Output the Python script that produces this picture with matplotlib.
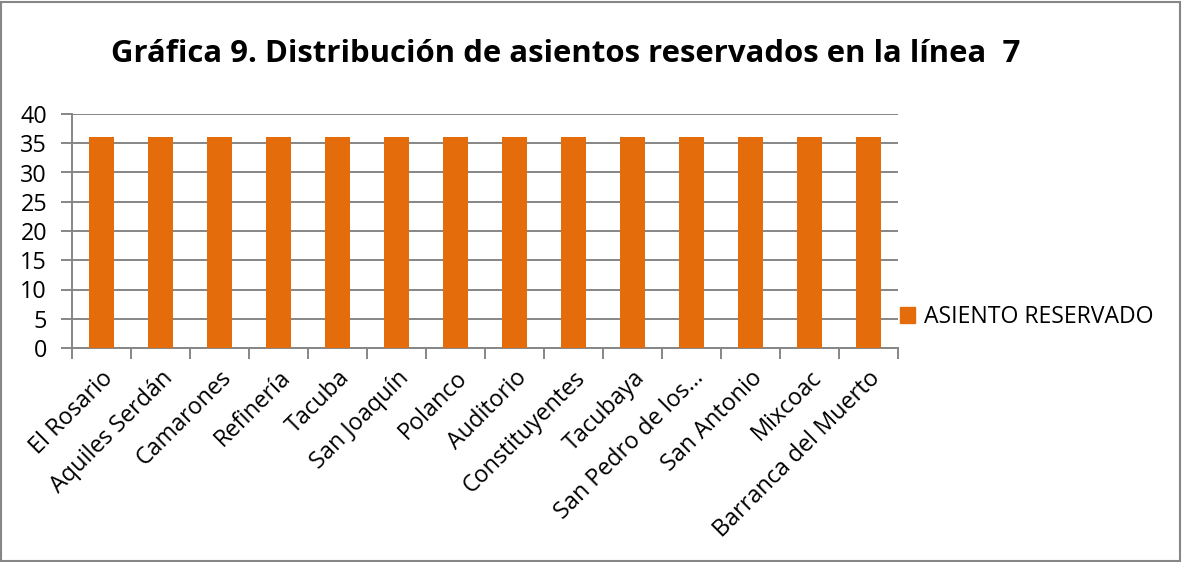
#!/usr/bin/env python3

import matplotlib.pyplot as plt
import numpy as np
from matplotlib.patches import Rectangle, Patch

stations = [
    "El Rosario", "Aquiles Serdán", "Camarones", "Refinería", "Tacuba",
    "San Joaquín", "Polanco", "Auditorio", "Constituyentes", "Tacubaya",
    "San Pedro de los…", "San Antonio", "Mixcoac", "Barranca del Muerto",
]
reserved_seats = [36, 36, 36, 36, 36, 36, 36, 36, 36, 36, 36, 36, 36, 36]
y_ticks = [0, 5, 10, 15, 20, 25, 30, 35, 40]

orange = "#E46C0A"
grid_gray = "#868686"

plt.rcParams["font.family"] = ["Open Sans", "DejaVu Sans"]

fig = plt.figure(figsize=(11.82, 5.62), dpi=100)
ax = fig.add_axes([72 / 1182, 1 - 348 / 562, (898 - 72) / 1182, (348 - 114) / 562])

x = np.arange(len(stations))
ax.bar(x, reserved_seats, width=0.41, color=orange, zorder=3,
       label="ASIENTO RESERVADO")

ax.set_xlim(-0.5, len(stations) - 0.5)
ax.set_ylim(0, 40)
ax.set_yticks(y_ticks)
ax.yaxis.grid(True, color=grid_gray, linewidth=1.4, zorder=0)

# category ticks sit between bars, labels at the bar centres
ax.set_xticks(np.arange(len(stations) + 1) - 0.5)
ax.set_xticklabels([])
ax.set_xticks(x, minor=True)
ax.set_xticklabels(stations, minor=True, rotation=45, ha="right",
                   rotation_mode="anchor", fontsize=16.8)
ax.tick_params(axis="x", which="minor", length=0, pad=13)
ax.tick_params(axis="x", which="major", length=8, width=1.4, color=grid_gray)
ax.tick_params(axis="y", length=8, width=1.4, color=grid_gray, labelsize=16.8,
               pad=10)

for side in ["top", "right"]:
    ax.spines[side].set_visible(False)
for side in ["left", "bottom"]:
    ax.spines[side].set_color(grid_gray)
    ax.spines[side].set_linewidth(1.4)

fig.text(566 / 1182, 1 - 54 / 562,
         "Gráfica 9. Distribución de asientos reservados en la línea  7",
         ha="center", va="center", fontsize=22.4, fontweight="bold")

fig.legend(handles=[Patch(color=orange, label="ASIENTO RESERVADO")],
           loc="center left", bbox_to_anchor=(900 / 1182, 1 - 317 / 562),
           frameon=False, fontsize=16.6, handlelength=0.65, handleheight=0.65,
           handletextpad=0.4, borderaxespad=0, borderpad=0)

fig.patches.append(Rectangle((1 / 1182, 1 / 562), 1179 / 1182, 559 / 562,
                             transform=fig.transFigure, fill=False,
                             edgecolor=grid_gray, linewidth=1.5))

fig.savefig("out.png", dpi=100)
